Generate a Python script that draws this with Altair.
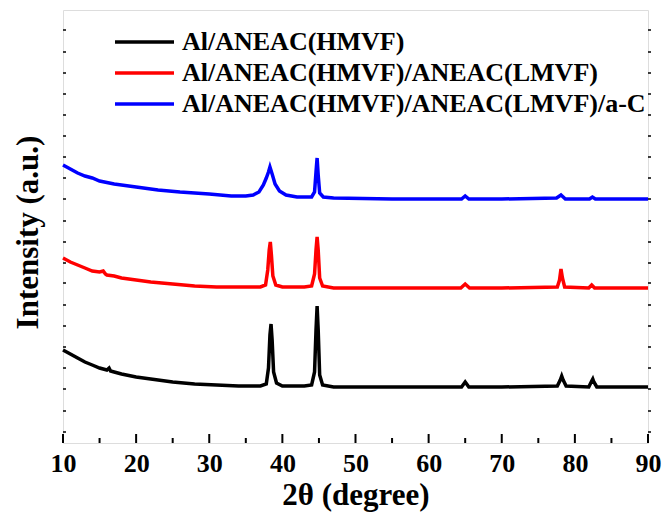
import altair as alt
import pandas as pd

series = ["Al/ANEAC(HMVF)", "Al/ANEAC(HMVF)/ANEAC(LMVF)", "Al/ANEAC(HMVF)/ANEAC(LMVF)/a-C"]
colors = ["#000000", "#ff0000", "#0000ff"]

black_x = [10, 11, 12, 13, 14, 15, 16, 16.3, 16.5, 17, 18, 20, 22, 25, 28, 31, 34, 37, 37.8, 38.1, 38.3,
           38.45, 38.6, 38.8, 39.2, 40, 43, 44.0, 44.4, 44.6, 44.75, 44.9, 45.1, 45.5, 47, 55, 64.5, 65.0,
           65.5, 70, 77.6, 78.0, 78.2, 78.4, 78.8, 81.9, 82.3, 82.45, 82.6, 83.0, 90]
black_y = [93, 89, 85, 81, 78, 75, 73, 75, 72, 71, 69, 66, 64, 61, 59, 58, 57, 57, 59, 75, 108,
           119, 103, 71, 60, 57, 57, 58, 71, 113, 137, 113, 68, 58, 56, 56, 56, 61,
           56, 56, 57, 63, 67, 63, 57, 56, 62, 64, 61, 56, 56]

red_x = [10, 11, 12, 13, 14, 15, 15.5, 15.8, 16, 17, 18, 20, 22, 25, 28, 31, 34, 37, 37.7, 38.0, 38.2,
         38.35, 38.5, 38.7, 39.1, 40, 43, 44.0, 44.4, 44.6, 44.75, 44.9, 45.1, 45.5, 47, 55, 64.4, 65.0,
         65.6, 70, 77.6, 77.9, 78.1, 78.3, 78.6, 81.9, 82.3, 82.7, 90]
red_y = [185, 181, 178, 175, 172, 171, 172, 169, 168, 167, 165, 163, 161, 159, 157, 156, 156, 156, 158, 173, 193,
         201, 188, 167, 158, 156, 156, 157, 169, 193, 206, 193, 165, 157, 155, 155, 155, 159,
         155, 155, 156, 163, 174, 165, 156, 155, 158, 155, 155]

blue_x = [10, 11, 12, 13, 14, 15, 17, 20, 23, 26, 30, 33, 35, 36, 36.8, 37.4, 37.8, 38.1, 38.3, 38.6,
          39.0, 39.6, 40.5, 42, 44.0, 44.4, 44.6, 44.75, 44.9, 45.1, 45.6, 47, 55, 64.5, 65.0, 65.5, 70,
          77.5, 78.1, 78.7, 82.0, 82.4, 82.8, 90]
blue_y = [278, 274, 270, 267, 265, 262, 259, 256, 253, 251, 249, 247, 247, 248, 251, 258, 265, 271, 276, 269,
          259, 252, 248, 246, 246, 251, 271, 285, 268, 250, 246, 245, 244, 244, 247, 244, 244,
          245, 248, 244, 244, 246, 244, 244]

x_major = [10, 20, 30, 40, 50, 60, 70, 80, 90]
x_minor = [15, 25, 35, 45, 55, 65, 75, 85]
y_ticks = [11, 32, 54, 75, 96, 117, 138, 160, 180, 201, 222, 244, 265, 286, 307, 328, 349, 370, 391, 413]

rows = []
for name, xs, ys in zip(series, [black_x, red_x, blue_x], [black_y, red_y, blue_y]):
    for i, (a, b) in enumerate(zip(xs, ys)):
        rows.append({"series": name, "theta": a, "intensity": b, "order": i})
df = pd.DataFrame(rows)

W, H = 585, 433
FONT = "Liberation Serif"
XT = "2θ (degree)"
YT = "Intensity (a.u.)"

x_scale = alt.Scale(domain=[10, 90], nice=False, zero=False)
y_scale = alt.Scale(domain=[0, 433], nice=False, zero=False)

x_axis = alt.Axis(
    values=x_major, format="d", labelFont=FONT, labelFontSize=26, labelFontWeight="bold",
    labelColor="black", labelPadding=7, ticks=False, tickSize=0, domain=False, grid=False,
    labelFlush=False, title=XT, titleFont=FONT, titleFontSize=31,
    titleFontWeight="bold", titleColor="black", titleBaseline="middle", titleY=52)
y_axis = alt.Axis(
    labels=False, ticks=False, tickSize=0, domain=False, grid=False, title=YT,
    titleFont=FONT, titleFontSize=31, titleFontWeight="bold", titleColor="black",
    titleBaseline="middle", titleX=-35, titleY=222)

lines = alt.Chart(df).mark_line(strokeWidth=3.5, interpolate="linear").encode(
    x=alt.X("theta:Q", scale=x_scale, axis=x_axis, title=XT),
    y=alt.Y("intensity:Q", scale=y_scale, axis=y_axis, title=YT),
    color=alt.Color("series:N", scale=alt.Scale(domain=series, range=colors), legend=alt.Legend(
        title=None, orient="none", legendX=50, legendY=17, symbolType="stroke", symbolSize=3481,
        symbolStrokeWidth=3.5, clipHeight=30, rowPadding=1, labelFont=FONT, labelFontSize=26,
        labelFontWeight="bold", labelColor="black", labelOffset=6, padding=0, labelLimit=700)),
    order="order:Q",
)

major = alt.Chart(pd.DataFrame({"t": x_major})).mark_rule(color="black", strokeWidth=2).encode(
    x=alt.X("t:Q", scale=x_scale, axis=x_axis, title=XT), y=alt.value(H), y2=alt.value(H - 9))
minor = alt.Chart(pd.DataFrame({"t": x_minor})).mark_rule(color="black", strokeWidth=2).encode(
    x=alt.X("t:Q", scale=x_scale, axis=x_axis, title=XT), y=alt.value(H), y2=alt.value(H - 5))
left_ticks = alt.Chart(pd.DataFrame({"v": y_ticks})).mark_rule(color="black", strokeWidth=1.5).encode(
    y=alt.Y("v:Q", scale=y_scale, axis=y_axis, title=YT), x=alt.value(0), x2=alt.value(3))
right_ticks = alt.Chart(pd.DataFrame({"v": y_ticks})).mark_rule(color="black", strokeWidth=1.5).encode(
    y=alt.Y("v:Q", scale=y_scale, axis=y_axis, title=YT), x=alt.value(W), x2=alt.value(W + 3))

chart = alt.layer(lines, major, minor, left_ticks, right_ticks).properties(
    width=W, height=H,
    padding={"left": 63, "top": 10, "right": 18, "bottom": 80},
    autosize=alt.AutoSizeParams(type="none"),
).configure_view(stroke="black", strokeWidth=2.5).configure(background="white")

chart.save("out.html", embed_options={"renderer": "svg", "actions": False})
